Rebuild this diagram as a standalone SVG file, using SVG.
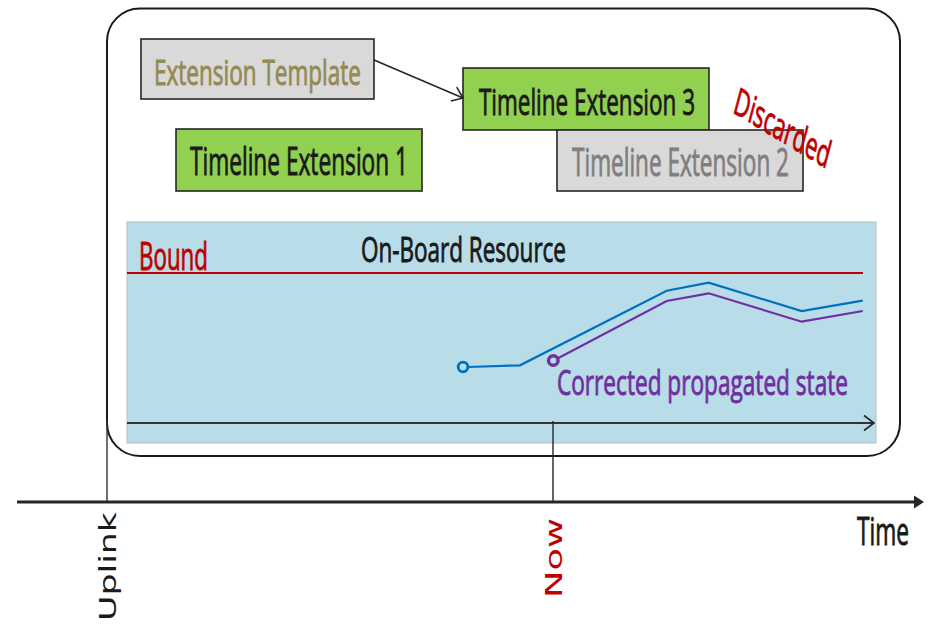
<svg xmlns="http://www.w3.org/2000/svg" width="931" height="624" viewBox="0 0 931 624">
  <defs>
    <marker id="openArrow" markerUnits="userSpaceOnUse" markerWidth="22" markerHeight="22" refX="11" refY="11" orient="auto" overflow="visible">
      <path d="M1,3.5 L11,11 L1,18.5" fill="none" stroke="#262626" stroke-width="1.6"/>
    </marker>
    <style>
      .t { font-family: "Open Sans", "Liberation Sans", sans-serif; stroke-width: 0.6; }
      .d { font-family: "DejaVu Sans", sans-serif; }
      .box { stroke: #262626; stroke-width: 1.6; }
      .green { fill: #92d050; }
      .grey { fill: #d9d9d9; }
      .dark { fill: #1a1a1a; stroke: #1a1a1a; }
      .red { fill: #c00000; stroke: #c00000; }
      .olive { fill: #948a54; stroke: #948a54; }
      .greytext { fill: #7f7f7f; stroke: #7f7f7f; }
      .purple { fill: #7030a0; stroke: #7030a0; }
    </style>
  </defs>
  <rect width="931" height="624" fill="#ffffff"/>

  <g id="frame">
    <rect x="107" y="8.5" width="793" height="447.5" rx="33" ry="33" fill="none" stroke="#1a1a1a" stroke-width="2"/>
  </g>

  <g id="resource-panel">
    <rect x="127" y="222" width="749" height="221" fill="#b8dde8" stroke="#b4bfc4" stroke-width="1"/>
    <line x1="127" y1="273" x2="863" y2="273" stroke="#c00000" stroke-width="2"/>
    <text class="t red" font-size="25" transform="translate(139,270) scale(1,1.5)" textLength="69" lengthAdjust="spacingAndGlyphs">Bound</text>
    <text class="t dark" font-size="23.3" transform="translate(361,262) scale(1,1.5)" textLength="205" lengthAdjust="spacingAndGlyphs">On-Board Resource</text>
  </g>

  <g id="blue-state">
    <polyline points="468,367 520,365.3 666.7,290.7 708.7,282.7 801.7,311 862.7,300.7" fill="none" stroke="#0070c0" stroke-width="2.2"/>
    <circle cx="463" cy="367" r="4.8" fill="none" stroke="#0070c0" stroke-width="2.8"/>
  </g>

  <g id="corrected-state">
    <polyline points="557.5,358.5 666.7,301 708.7,293.3 801.7,321.7 862.7,311" fill="none" stroke="#7030a0" stroke-width="2.2"/>
    <circle cx="553.3" cy="360.5" r="4.8" fill="none" stroke="#7030a0" stroke-width="3.4"/>
    <text class="t purple" font-size="23.3" transform="translate(557,395) scale(1,1.5)" textLength="291" lengthAdjust="spacingAndGlyphs">Corrected propagated state</text>
  </g>

  <g id="extension-template">
    <rect class="box grey" x="141" y="39" width="233" height="60"/>
    <text class="t olive" font-size="23.3" transform="translate(154,85) scale(1,1.5)" textLength="207" lengthAdjust="spacingAndGlyphs">Extension Template</text>
  </g>

  <g id="timeline-extension-1">
    <rect class="box green" x="176" y="129" width="246" height="62"/>
    <text class="t dark" font-size="25" transform="translate(190,175) scale(1,1.5)" textLength="218" lengthAdjust="spacingAndGlyphs">Timeline Extension 1</text>
  </g>

  <g id="timeline-extension-3">
    <rect class="box green" x="463" y="68" width="246" height="62"/>
    <text class="t dark" font-size="24.5" transform="translate(479,115) scale(1,1.5)" textLength="216" lengthAdjust="spacingAndGlyphs">Timeline Extension 3</text>
  </g>

  <g id="timeline-extension-2">
    <rect class="box grey" x="557" y="130" width="246" height="61"/>
    <text class="t greytext" font-size="25" transform="translate(572,176) scale(1,1.5)" textLength="217" lengthAdjust="spacingAndGlyphs">Timeline Extension 2</text>
  </g>

  <g id="discarded-label">
    <text class="t red" font-size="25.5" transform="translate(732,112) scale(1,1.5) rotate(21.8)" textLength="102" lengthAdjust="spacingAndGlyphs">Discarded</text>
  </g>

  <g id="connectors">
    <line x1="374" y1="60" x2="463" y2="98" stroke="#262626" stroke-width="1.6" marker-end="url(#openArrow)"/>
    <line x1="127" y1="423" x2="874" y2="423" stroke="#333333" stroke-width="2" marker-end="url(#openArrow)"/>
  </g>

  <g id="time-axis">
    <line x1="17" y1="502" x2="916" y2="502" stroke="#262626" stroke-width="3.2"/>
    <polygon points="914,495.5 924,502 914,508.5" fill="#262626"/>
    <text class="t dark" font-size="25" transform="translate(857,545) scale(1,1.5)" textLength="52" lengthAdjust="spacingAndGlyphs">Time</text>
  </g>

  <g id="uplink-marker">
    <line x1="107" y1="420" x2="107" y2="502" stroke="#333333" stroke-width="1.4"/>
    <text class="d" fill="#1a1a1a" font-size="23" transform="translate(115.5,621) rotate(-90)" textLength="109" lengthAdjust="spacingAndGlyphs">Uplink</text>
  </g>

  <g id="now-marker">
    <line x1="553" y1="421" x2="553" y2="502" stroke="#262626" stroke-width="1.4"/>
    <text class="d" fill="#c00000" font-size="23" transform="translate(562,598) rotate(-90)" textLength="80" lengthAdjust="spacingAndGlyphs">Now</text>
  </g>
</svg>
